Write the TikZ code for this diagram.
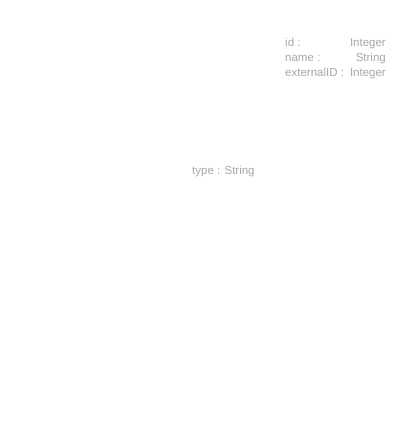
\documentclass[tikz,border=0pt]{standalone}
\usepackage{fontspec}
\setmainfont{Liberation Sans}
\usepackage{tikz}
\definecolor{attrgray}{RGB}{165,165,172}

\begin{document}
\begin{tikzpicture}[x=1pt, y=-1pt, attr/.style={text=attrgray, inner sep=0pt, font=\fontsize{11.5}{15}\selectfont}]
\useasboundingbox (0,0) rectangle (409,436);

\node[attr, anchor=base west] (idname) at (285,47) {id :};
\node[attr, anchor=base east] (idtype) at (386,47) {Integer};
\node[attr, anchor=base west] (namename) at (285,62) {name :};
\node[attr, anchor=base east] (nametype) at (386,62) {String};
\node[attr, anchor=base west] (extname) at (285,77) {externalID :};
\node[attr, anchor=base east] (exttype) at (386,77) {Integer};

\node[attr, anchor=base west] (typeattr) at (192,174) {type : String};
\end{tikzpicture}
\end{document}
